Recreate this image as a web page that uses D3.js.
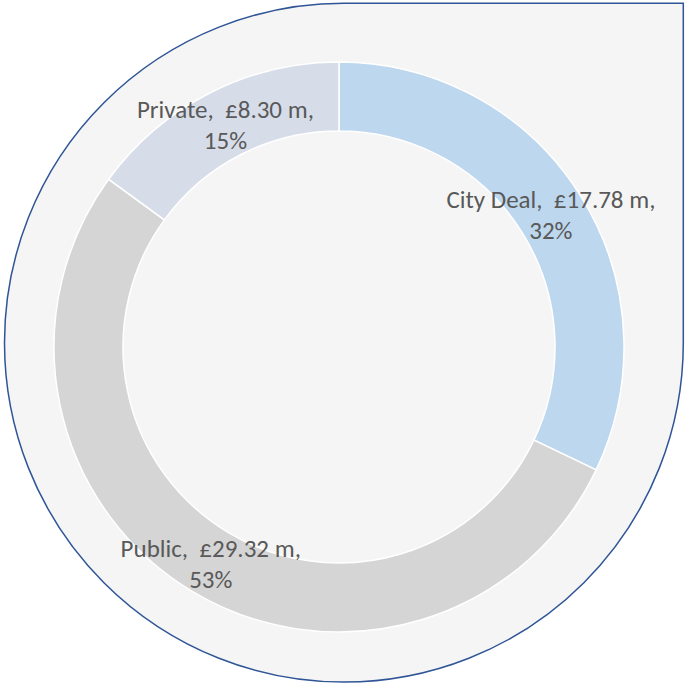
<!DOCTYPE html>
<html>
<head>
<meta charset="utf-8">
<script src="https://cdn.jsdelivr.net/npm/d3@7"></script>
<style>
  body { margin: 0; background: #ffffff; }
  svg text { white-space: pre; }
</style>
</head>
<body>
<div id="chart"></div>
<script>
const categories = ["City Deal", "Public", "Private"];
const values = [17.78, 29.32, 8.30];
const colors = ["#bdd7ee", "#d5d5d5", "#d6dde9"];

const width = 685, height = 684;
const cx = 339, cy = 347;
const outerR = 285, innerR = 216;

const svg = d3.select("#chart").append("svg")
  .attr("width", width)
  .attr("height", height);

// teardrop background: circle with square top-right corner
const bg = { left: 4.5, top: 3.3, right: 683.3, bottom: 681.5 };
const br = (bg.right - bg.left) / 2;
const bcx = bg.left + br, bcy = bg.top + br;
svg.append("path")
  .attr("d", `M${bcx},${bg.top} L${bg.right},${bg.top} L${bg.right},${bcy} A${br},${br} 0 1 1 ${bcx},${bg.top} Z`)
  .attr("fill", "#f5f5f5")
  .attr("stroke", "#2f5597")
  .attr("stroke-width", 1.5);

const total = d3.sum(values);
const pie = d3.pie().sort(null).value(d => d.value);
const arc = d3.arc().innerRadius(innerR).outerRadius(outerR);

const data = categories.map((c, i) => ({ name: c, value: values[i], color: colors[i] }));

const g = svg.append("g").attr("transform", `translate(${cx},${cy})`);

g.selectAll("path.slice")
  .data(pie(data))
  .join("path")
  .attr("class", "slice")
  .attr("d", arc)
  .attr("fill", d => d.data.color)
  .attr("stroke", "#ffffff")
  .attr("stroke-width", 1.5);

// Labels
const fmtPct = d3.format(".0%");
const labels = g.selectAll("text.label")
  .data(pie(data))
  .join("text")
  .attr("class", "label")
  .attr("text-anchor", "middle")
  .attr("fill", "#595959")
  .style("font-family", "Carlito, Calibri, Lato, sans-serif")
  .style("font-size", "25px");

labels.append("tspan")
  .attr("x", d => arc.centroid(d)[0])
  .attr("y", d => arc.centroid(d)[1] - 5.5)
  .text(d => `${d.data.name},  £${d.data.value.toFixed(2)} m,`);

labels.append("tspan")
  .attr("x", d => arc.centroid(d)[0])
  .attr("y", d => arc.centroid(d)[1] + 25.5)
  .text(d => fmtPct(d.data.value / total));
</script>
</body>
</html>
